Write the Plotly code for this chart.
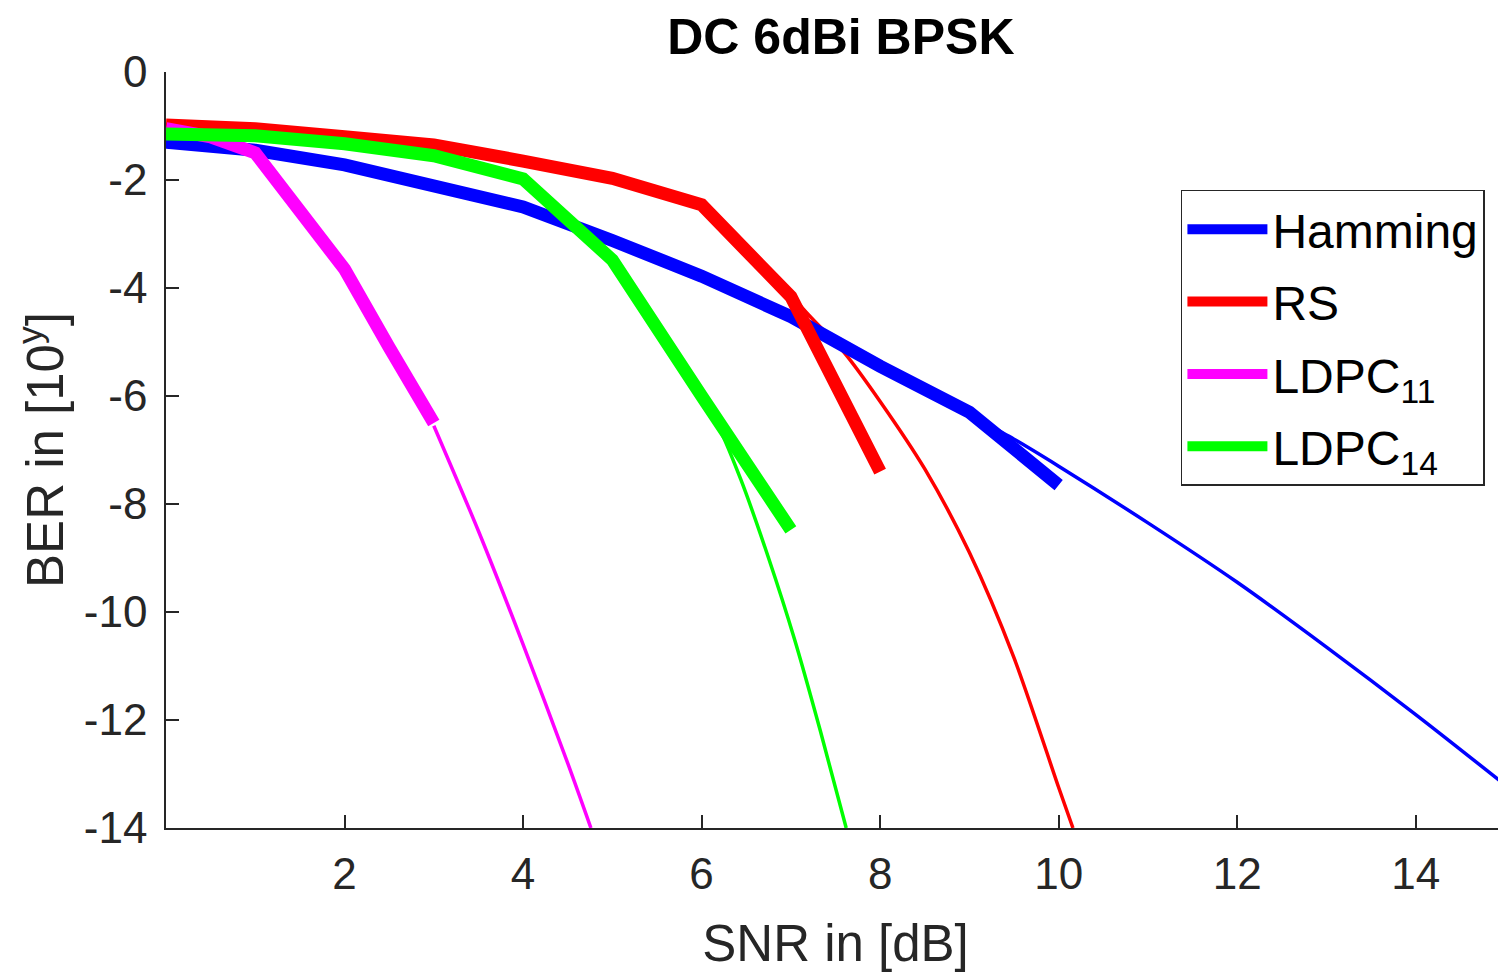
import plotly.graph_objects as go

# ---- data (SNR in dB, BER exponent) ----
ham_x = [0, 1, 2, 3, 4, 5, 6, 7, 8, 9, 10]
ham_y = [-1.3, -1.45, -1.72, -2.08, -2.5, -3.12, -3.78, -4.53, -5.45, -6.3, -7.65]
ham_th_x = [0, 1, 2, 3, 4, 5, 6, 7, 8, 9, 9.5, 10, 11, 12, 13, 14, 15]
ham_th_y = [-1.3, -1.45, -1.72, -2.08, -2.5, -3.12, -3.78, -4.53, -5.45, -6.35, -6.8, -7.3, -8.35, -9.45, -10.65, -11.9, -13.2]

rs_x = [0, 1, 2, 3, 4, 5, 6, 7, 8]
rs_y = [-0.98, -1.05, -1.2, -1.35, -1.65, -1.97, -2.46, -4.16, -7.4]
rs_th_x = [0, 1.5, 3, 4, 5, 6, 6.6, 7.2, 7.6, 8.0, 8.5, 9.0, 9.5, 10.0, 10.16]
rs_th_y = [-1.25, -1.28, -1.45, -1.7, -2.0, -2.5, -3.4, -4.5, -5.2, -6.1, -7.35, -8.9, -10.85, -13.25, -14.0]

ldpc11_x = [0, 0.5, 1, 1.5, 2, 2.5, 3]
ldpc11_y = [-1.05, -1.2, -1.5, -2.55, -3.65, -5.1, -6.5]
ldpc11_th_x = [3.0, 3.5, 4.0, 4.5, 4.76]
ldpc11_th_y = [-6.55, -8.5, -10.6, -12.8, -14.0]

ldpc14_x = [0, 1, 2, 3, 4, 5, 6, 7]
ldpc14_y = [-1.15, -1.18, -1.33, -1.55, -1.98, -3.48, -6.0, -8.48]
ldpc14_th_x = [6.0, 6.2, 6.44, 6.75, 7.04, 7.33, 7.62]
ldpc14_th_y = [-6.0, -6.6, -7.55, -9.0, -10.5, -12.2, -14.0]

names = ["Hamming", "RS", "LDPC<sub>11</sub>", "LDPC<sub>14</sub>"]
colors = ["#0000FF", "#FF0000", "#FF00FF", "#00FF00"]

x_ticks = [2, 4, 6, 8, 10, 12, 14]
y_ticks = [0, -2, -4, -6, -8, -10, -12, -14]

FONT = "Liberation Sans, Arial, sans-serif"

fig = go.Figure()

thin = [(ham_th_x, ham_th_y), (rs_th_x, rs_th_y), (ldpc11_th_x, ldpc11_th_y), (ldpc14_th_x, ldpc14_th_y)]
thick = [(ham_x, ham_y), (rs_x, rs_y), (ldpc11_x, ldpc11_y), (ldpc14_x, ldpc14_y)]

for (tx, ty), c in zip(thin, colors):
    fig.add_trace(go.Scatter(x=tx, y=ty, mode="lines", line=dict(color=c, width=3.5, shape="spline", smoothing=0.8),
                             showlegend=False, hoverinfo="skip"))
for i, ((mx, my), c, n) in enumerate(zip(thick, colors, names)):
    fig.add_trace(go.Scatter(x=mx, y=my, mode="lines", name=n, legendgroup=f"g{i}",
                             line=dict(color=c, width=13)))

axis_common = dict(
    showline=True, linecolor="#262626", linewidth=1.5, mirror=False,
    ticks="inside", ticklen=13, tickwidth=1.5, tickcolor="#262626",
    showgrid=False, zeroline=False, automargin=False,
    tickfont=dict(family=FONT, size=44, color="#262626"),
)

fig.update_xaxes(range=[0, 15], tickvals=x_ticks, ticktext=[str(v) for v in x_ticks],
                 ticklabelstandoff=6,
                 title=dict(text="SNR in [dB]", font=dict(family=FONT, size=51, color="#262626"), standoff=29),
                 **axis_common)
fig.update_yaxes(range=[-14, 0], tickvals=y_ticks, ticktext=[str(v) for v in y_ticks],
                 ticklabelstandoff=8,
                 title=dict(text="BER in [10<sup>y</sup>]", font=dict(family=FONT, size=51, color="#262626"), standoff=4),
                 **axis_common)

fig.update_layout(
    width=1498, height=965,
    margin=dict(l=158, r=1, t=64, b=145, autoexpand=False),
    paper_bgcolor="white", plot_bgcolor="white",
    title=dict(text="<b>DC 6dBi BPSK</b>", xref="container", x=0.556, xanchor="center",
               y=0.9705, yanchor="middle",
               font=dict(family=FONT, size=50, color="black")),
    legend=dict(x=0.985, xanchor="right", y=0.844, yanchor="top",
                bordercolor="#262626", borderwidth=1.5, bgcolor="white",
                font=dict(family=FONT, size=48, color="black"),
                itemwidth=80, traceorder="grouped", tracegroupgap=7),
    showlegend=True,
)

fig.write_html("out.html")
